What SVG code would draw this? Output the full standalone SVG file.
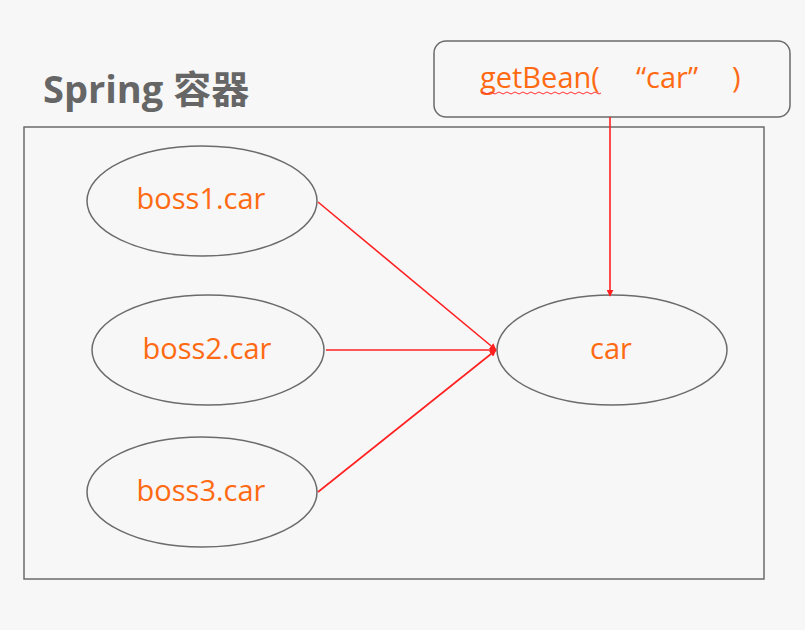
<svg xmlns="http://www.w3.org/2000/svg" width="805" height="630" viewBox="0 0 805 630">
<style>
.node ellipse{fill:#f7f7f7;stroke:#6b6b6b;stroke-width:1.5}
.lbl{font-family:"Open Sans","Liberation Sans",sans-serif;font-size:29px;fill:#ff6a13;text-anchor:middle}
.conn line{stroke:#ff2020;stroke-width:1.6}
</style>
<defs>
<marker id="arr" viewBox="0 0 10 10" refX="9" refY="5" markerWidth="7" markerHeight="7" orient="auto" markerUnits="userSpaceOnUse"><path d="M0,0 L10,5 L0,10 z" fill="#ff2020"/></marker>
</defs>
<rect x="0" y="0" width="805" height="630" fill="#f7f7f7"/>
<g id="container">
<rect x="24" y="127" width="740" height="452" fill="none" stroke="#6b6b6b" stroke-width="1.5"/>
<text x="43" y="103" font-family="'Open Sans','Noto Sans CJK SC',sans-serif" font-size="38" font-weight="bold" fill="#666">Spring 容器</text>
</g>
<g id="getBean">
<rect x="434" y="41" width="356" height="76" rx="12" fill="#f7f7f7" stroke="#6b6b6b" stroke-width="1.5"/>
<text y="88" font-family="'Open Sans','Liberation Sans',sans-serif" font-size="29" fill="#ff6a13"><tspan x="480">getBean(</tspan><tspan x="636">“car”</tspan><tspan x="732">)</tspan></text>
<path d="M481,93 q2,-2 4,0 t4,0 t4,0 t4,0 t4,0 t4,0 t4,0 t4,0 t4,0 t4,0 t4,0 t4,0 t4,0 t4,0 t4,0 t4,0 t4,0 t4,0 t4,0 t4,0 t4,0 t4,0 t4,0 t4,0 t4,0 t4,0 t4,0 t4,0 t4,0 t4,0" fill="none" stroke="#ff3030" stroke-width="1"/>
</g>
<g id="boss1" class="node"><ellipse cx="202" cy="201" rx="115" ry="55"/><text x="201" y="209" class="lbl">boss1.car</text></g>
<g id="boss2" class="node"><ellipse cx="208" cy="350" rx="116" ry="55"/><text x="207" y="359" class="lbl">boss2.car</text></g>
<g id="boss3" class="node"><ellipse cx="202" cy="492" rx="115" ry="55"/><text x="201" y="501" class="lbl">boss3.car</text></g>
<g id="car" class="node"><ellipse cx="612" cy="350" rx="115" ry="55"/><text x="611" y="359" class="lbl">car</text></g>
<g id="connectors" class="conn">
<line x1="318" y1="202" x2="496" y2="350" marker-end="url(#arr)"/>
<line x1="326" y1="350" x2="496" y2="350" marker-end="url(#arr)"/>
<line x1="318" y1="492" x2="496" y2="350" marker-end="url(#arr)"/>
<line x1="610" y1="117" x2="610" y2="296" marker-end="url(#arr)"/>
</g>
</svg>
